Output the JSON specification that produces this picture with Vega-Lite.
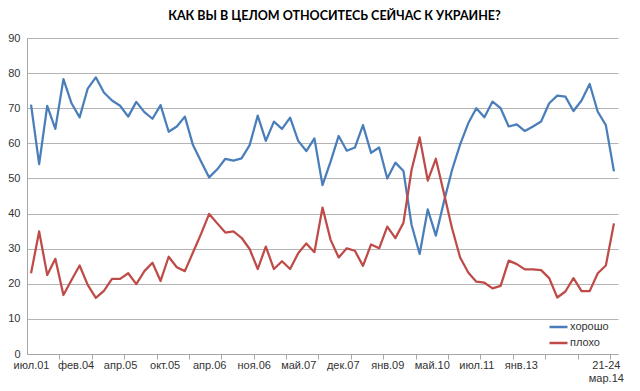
{
  "$schema": "https://vega.github.io/schema/vega-lite/v6.json",
  "width": 591,
  "height": 316,
  "autosize": {"type": "none"},
  "padding": {"left": 27, "top": 38, "right": 22, "bottom": 37},
  "background": "white",
  "title": {
    "text": "КАК ВЫ В ЦЕЛОМ ОТНОСИТЕСЬ СЕЙЧАС К УКРАИНЕ?",
    "font": "Lato",
    "fontSize": 12.5,
    "fontWeight": "bold",
    "color": "#000000",
    "anchor": "middle",
    "dx": 12,
    "offset": 10
  },
  "config": {
    "view": {"stroke": null},
    "axis": {"labelFont": "Liberation Sans", "labelFontSize": 11, "labelColor": "#333333"},
    "legend": {"labelFont": "Liberation Sans", "labelFontSize": 11, "labelColor": "#333333"}
  },
  "data": {
    "values": [
      {"n": 0, "хорошо": 71.0, "плохо": 23.0},
      {"n": 1, "хорошо": 54.1, "плохо": 34.9},
      {"n": 2, "хорошо": 70.7, "плохо": 22.5},
      {"n": 3, "хорошо": 64.1, "плохо": 27.1},
      {"n": 4, "хорошо": 78.3, "плохо": 16.8},
      {"n": 5, "хорошо": 71.4, "плохо": 21.1},
      {"n": 6, "хорошо": 67.4, "плохо": 25.2},
      {"n": 7, "хорошо": 75.6, "плохо": 19.7},
      {"n": 8, "хорошо": 78.8, "плохо": 16.0},
      {"n": 9, "хорошо": 74.5, "плохо": 18.0},
      {"n": 10, "хорошо": 72.2, "плохо": 21.4},
      {"n": 11, "хорошо": 70.7, "плохо": 21.4},
      {"n": 12, "хорошо": 67.6, "плохо": 23.0},
      {"n": 13, "хорошо": 71.8, "плохо": 19.9},
      {"n": 14, "хорошо": 68.9, "плохо": 23.6},
      {"n": 15, "хорошо": 67.0, "плохо": 26.0},
      {"n": 16, "хорошо": 70.9, "плохо": 20.8},
      {"n": 17, "хорошо": 63.3, "плохо": 27.7},
      {"n": 18, "хорошо": 64.8, "плохо": 24.7},
      {"n": 19, "хорошо": 67.6, "плохо": 23.6},
      {"n": 20, "хорошо": 59.5, "плохо": 28.9},
      {"n": 21, "хорошо": 54.8, "плохо": 34.2},
      {"n": 22, "хорошо": 50.3, "плохо": 39.9},
      {"n": 23, "хорошо": 52.6, "плохо": 37.2},
      {"n": 24, "хорошо": 55.6, "плохо": 34.6},
      {"n": 25, "хорошо": 55.1, "плохо": 34.9},
      {"n": 26, "хорошо": 55.7, "плохо": 33.1},
      {"n": 27, "хорошо": 59.5, "плохо": 29.9},
      {"n": 28, "хорошо": 67.9, "плохо": 24.2},
      {"n": 29, "хорошо": 60.7, "плохо": 30.6},
      {"n": 30, "хорошо": 66.2, "плохо": 24.2},
      {"n": 31, "хорошо": 64.1, "плохо": 26.4},
      {"n": 32, "хорошо": 67.3, "плохо": 24.2},
      {"n": 33, "хорошо": 60.7, "плохо": 28.7},
      {"n": 34, "хорошо": 57.8, "плохо": 31.5},
      {"n": 35, "хорошо": 61.4, "плохо": 29.0},
      {"n": 36, "хорошо": 48.1, "плохо": 41.7},
      {"n": 37, "хорошо": 54.8, "плохо": 32.5},
      {"n": 38, "хорошо": 62.1, "плохо": 27.5},
      {"n": 39, "хорошо": 57.9, "плохо": 30.1},
      {"n": 40, "хорошо": 58.8, "плохо": 29.4},
      {"n": 41, "хорошо": 65.2, "плохо": 25.1},
      {"n": 42, "хорошо": 57.3, "плохо": 31.2},
      {"n": 43, "хорошо": 58.8, "плохо": 30.1},
      {"n": 44, "хорошо": 50.0, "плохо": 36.3},
      {"n": 45, "хорошо": 54.5, "плохо": 33.0},
      {"n": 46, "хорошо": 52.1, "плохо": 37.4},
      {"n": 47, "хорошо": 36.8, "плохо": 52.4},
      {"n": 48, "хорошо": 28.5, "плохо": 61.7},
      {"n": 49, "хорошо": 41.2, "плохо": 49.4},
      {"n": 50, "хорошо": 33.7, "плохо": 55.6},
      {"n": 51, "хорошо": 43.4, "плохо": 45.8},
      {"n": 52, "хорошо": 52.4, "плохо": 35.8},
      {"n": 53, "хорошо": 59.7, "плохо": 27.5},
      {"n": 54, "хорошо": 65.7, "плохо": 23.2},
      {"n": 55, "хорошо": 70.0, "плохо": 20.6},
      {"n": 56, "хорошо": 67.4, "плохо": 20.3},
      {"n": 57, "хорошо": 71.9, "плохо": 18.7},
      {"n": 58, "хорошо": 70.0, "плохо": 19.4},
      {"n": 59, "хорошо": 64.8, "плохо": 26.6},
      {"n": 60, "хорошо": 65.4, "плохо": 25.6},
      {"n": 61, "хорошо": 63.5, "плохо": 24.1},
      {"n": 62, "хорошо": 64.8, "плохо": 24.1},
      {"n": 63, "хорошо": 66.2, "плохо": 23.9},
      {"n": 64, "хорошо": 71.4, "плохо": 21.6},
      {"n": 65, "хорошо": 73.6, "плохо": 16.1},
      {"n": 66, "хорошо": 73.3, "плохо": 17.8},
      {"n": 67, "хорошо": 69.2, "плохо": 21.6},
      {"n": 68, "хорошо": 72.2, "плохо": 17.9},
      {"n": 69, "хорошо": 76.9, "плохо": 17.9},
      {"n": 70, "хорошо": 69.0, "плохо": 23.0},
      {"n": 71, "хорошо": 65.2, "плохо": 25.2},
      {"n": 72, "хорошо": 52.0, "плохо": 37.2}
    ]
  },
  "resolve": {"axis": {"x": "independent"}},
  "layer": [
    {
      "mark": {"type": "line", "strokeWidth": 2.25, "strokeJoin": "round"},
      "encoding": {
        "x": {
          "field": "n",
          "type": "quantitative",
          "scale": {"domain": [-0.5, 72.5], "nice": false, "zero": false},
          "axis": {
            "orient": "bottom",
            "title": null,
            "grid": false,
            "ticks": false,
            "domain": true,
            "domainColor": "#a6a6a6",
            "domainWidth": 1,
            "values": [0, 5.5, 11, 16.5, 22, 27.5, 33, 38.5, 44, 49.5, 55, 60.5, 71],
            "labelExpr": "[ 'июл.01','фев.04','апр.05','окт.05','апр.06','ноя.06','май.07','дек.07','янв.09','май.10','июл.11','янв.13',['21-24','мар.14'] ][indexof([0,5.5,11,16.5,22,27.5,33,38.5,44,49.5,55,60.5,71], datum.value)]",
            "labelPadding": 5,
            "labelOverlap": false,
            "labelFlush": false,
            "labelAlign": "center"
          }
        },
        "y": {
          "field": "хорошо",
          "type": "quantitative",
          "scale": {"domain": [0, 90], "nice": false},
          "axis": {
            "title": null,
            "values": [0, 10, 20, 30, 40, 50, 60, 70, 80, 90],
            "grid": true,
            "gridColor": "#b4b4b4",
            "gridWidth": 1,
            "ticks": false,
            "domain": true,
            "domainColor": "#a6a6a6",
            "labelPadding": 7,
            "labelOverlap": false
          }
        },
        "color": {
          "datum": "хорошо",
          "type": "nominal",
          "scale": {"domain": ["хорошо", "плохо"], "range": ["#4a7ebb", "#be4b48"]},
          "legend": {
            "title": null,
            "orient": "none",
            "legendX": 521,
            "legendY": 281,
            "symbolType": "stroke",
            "symbolSize": 324,
            "symbolStrokeWidth": 2.5,
            "clipHeight": 16,
            "rowPadding": 0,
            "labelOffset": 1,
            "padding": 0
          }
        }
      }
    },
    {
      "mark": {"type": "line", "strokeWidth": 2.25, "strokeJoin": "round"},
      "encoding": {
        "x": {
          "field": "n",
          "type": "quantitative",
          "axis": {
            "orient": "bottom",
            "title": null,
            "grid": false,
            "labels": false,
            "domain": false,
            "ticks": true,
            "tickSize": 5,
            "tickColor": "#a6a6a6",
            "values": [3.5, 7.5, 11.5, 15.5, 19.5, 23.5, 27.5, 31.5, 35.5, 39.5, 43.5, 47.5, 51.5, 55.5, 59.5, 63.5, 67.5, 71.5]
          }
        },
        "y": {
          "field": "плохо",
          "type": "quantitative",
          "axis": {
            "title": null,
            "values": [0, 10, 20, 30, 40, 50, 60, 70, 80, 90],
            "grid": true,
            "gridColor": "#b4b4b4",
            "gridWidth": 1,
            "ticks": false,
            "domain": true,
            "domainColor": "#a6a6a6",
            "labelPadding": 7,
            "labelOverlap": false
          }
        },
        "color": {"datum": "плохо", "type": "nominal"}
      }
    }
  ]
}
